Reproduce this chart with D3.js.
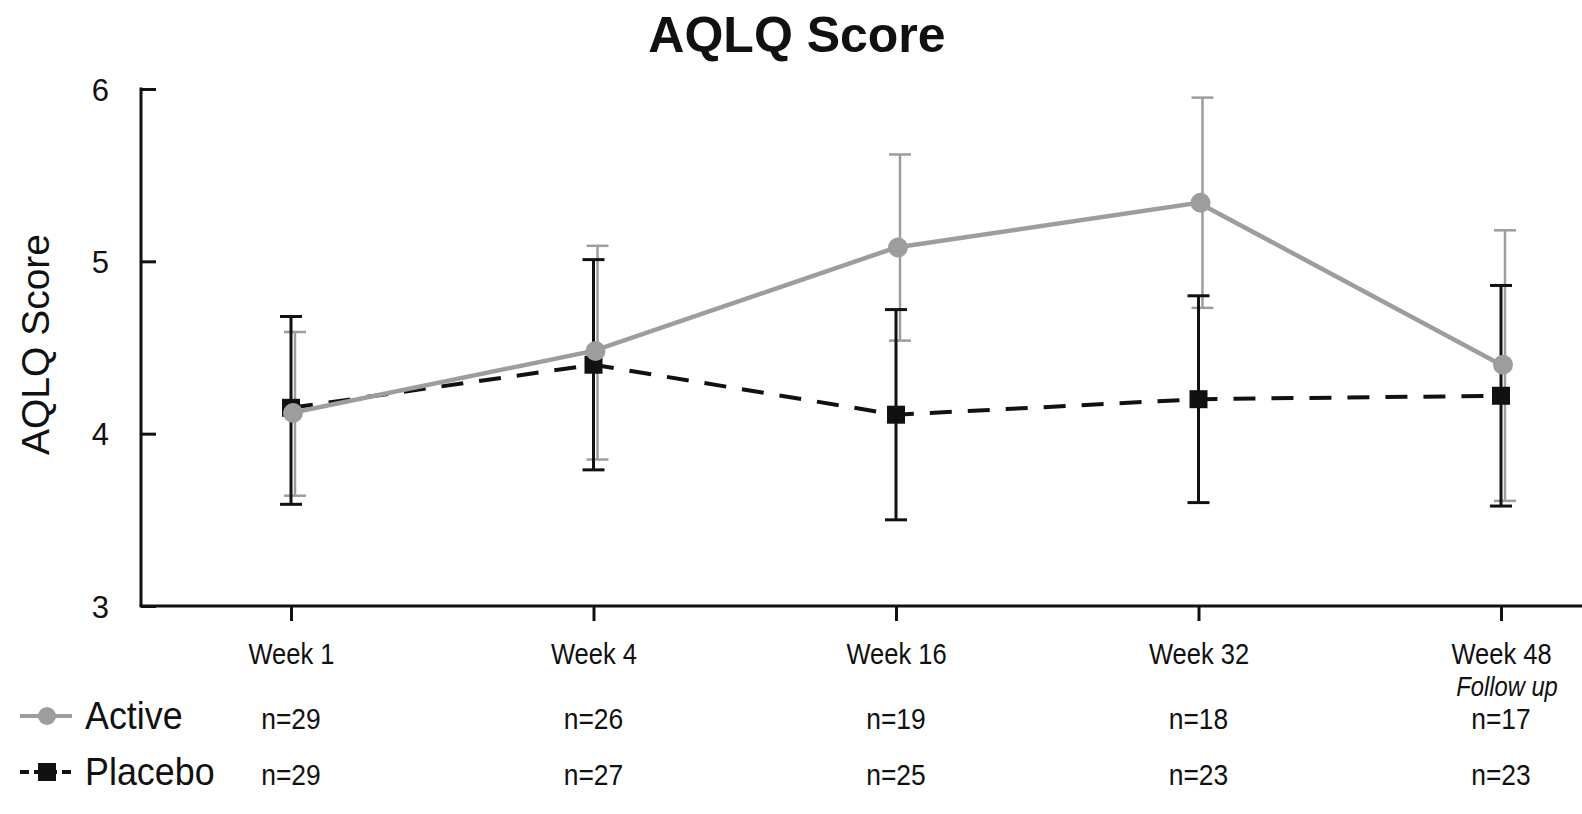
<!DOCTYPE html>
<html>
  <head>
    <meta charset="utf-8">
    <script src="https://d3js.org/d3.v7.min.js"></script>
    <title>AQLQ Score</title>
    <style>
      body {
        margin: 0px;
        background: #fff;
      }
      text {
        font-family: "Liberation Sans", Arial, sans-serif;
        fill: #111;
      }
      .tick line, .axis-line {
        stroke: #111;
        stroke-width: 3;
      }
    </style>
  </head>
  <body>
    <svg width="1582" height="814"></svg>
    <script>
      const weeks = ['Week 1', 'Week 4', 'Week 16', 'Week 32', 'Week 48'];
      const yTicks = [3, 4, 5, 6];

      const activeMean = [4.12, 4.48, 5.08, 5.34, 4.40];
      const activeHigh = [4.59, 5.09, 5.62, 5.95, 5.18];
      const activeLow = [3.64, 3.85, 4.54, 4.73, 3.61];
      const activeN = [29, 26, 19, 18, 17];

      const placeboMean = [4.15, 4.40, 4.11, 4.20, 4.22];
      const placeboHigh = [4.68, 5.01, 4.72, 4.80, 4.86];
      const placeboLow = [3.59, 3.79, 3.50, 3.60, 3.58];
      const placeboN = [29, 27, 25, 23, 23];

      const grey = '#9d9d9d';
      const axisLeftX = 141;
      const axisRightX = 1582;
      const narrow = 'scale(0.88,1)';

      const svg = d3.select('svg');

      const x = d3.scalePoint()
        .domain(weeks)
        .range([291, 1501]);

      const y = d3.scaleLinear()
        .domain([3, 6])
        .range([606, 89]);

      const rows = (mean, high, low) => weeks.map((w, i) => ({
        week: w, mean: mean[i], high: high[i], low: low[i]
      }));
      const active = rows(activeMean, activeHigh, activeLow);
      const placebo = rows(placeboMean, placeboHigh, placeboLow);

      // title
      svg.append('text')
          .attr('x', 797)
          .attr('y', 52)
          .attr('text-anchor', 'middle')
          .style('font-size', '50px')
          .style('font-weight', 'bold')
          .text('AQLQ Score');

      // y axis
      const yAxisG = svg.append('g')
          .attr('transform', `translate(${axisLeftX},0)`)
          .call(d3.axisLeft(y).tickValues(yTicks).tickFormat(d3.format('d'))
            .tickSize(-15).tickSizeOuter(0).tickPadding(32));
      yAxisG.select('.domain').remove();
      yAxisG.selectAll('.tick text').style('font-size', '31px').attr('dy', '0.36em');

      svg.append('line')
          .attr('class', 'axis-line')
          .attr('x1', axisLeftX).attr('x2', axisLeftX)
          .attr('y1', y(6) - 1.5).attr('y2', y(3));

      svg.append('text')
          .attr('transform', `translate(49,${(y(3) + y(6)) / 2 - 3}) rotate(-90)`)
          .attr('text-anchor', 'middle')
          .style('font-size', '39px')
          .text('AQLQ Score');

      // x axis
      const xAxisG = svg.append('g')
          .attr('transform', `translate(0,${y(3)})`)
          .call(d3.axisBottom(x).tickSize(15).tickSizeOuter(0).tickPadding(22));
      xAxisG.select('.domain').remove();
      xAxisG.selectAll('.tick text')
          .style('font-size', '29px')
          .attr('transform', narrow);

      svg.append('line')
          .attr('class', 'axis-line')
          .attr('x1', axisLeftX - 1.5).attr('x2', axisRightX)
          .attr('y1', y(3)).attr('y2', y(3));

      svg.append('g')
          .attr('transform', `translate(${x('Week 48') + 6},696)`)
        .append('text')
          .attr('transform', narrow)
          .attr('text-anchor', 'middle')
          .style('font-size', '27px')
          .style('font-style', 'italic')
          .text('Follow up');

      // error bars
      const drawErrors = (data, color, width, dx) => {
        const g = svg.append('g')
            .attr('stroke', color)
            .attr('stroke-width', width)
            .attr('fill', 'none');
        const bars = g.selectAll('g').data(data).enter().append('g')
            .attr('transform', d => `translate(${x(d.week) + dx},0)`);
        bars.append('line')
            .attr('y1', d => y(d.low)).attr('y2', d => y(d.high));
        bars.append('line')
            .attr('x1', -11).attr('x2', 11)
            .attr('y1', d => y(d.high)).attr('y2', d => y(d.high));
        bars.append('line')
            .attr('x1', -11).attr('x2', 11)
            .attr('y1', d => y(d.low)).attr('y2', d => y(d.low));
      };
      drawErrors(active, grey, 2.5, 4);
      drawErrors(placebo, '#111', 3, 0);

      const line = d3.line()
        .x(d => x(d.week))
        .y(d => y(d.mean));

      // placebo
      svg.append('path')
          .datum(placebo)
          .attr('d', line)
          .attr('fill', 'none')
          .attr('stroke', '#111')
          .attr('stroke-width', 4)
          .attr('stroke-dasharray', '22,16');

      svg.append('g').selectAll('rect').data(placebo)
        .enter().append('rect')
          .attr('x', d => x(d.week) - 9)
          .attr('y', d => y(d.mean) - 9)
          .attr('width', 18)
          .attr('height', 18)
          .attr('fill', '#111');

      // active
      svg.append('path')
          .datum(active)
          .attr('d', line)
          .attr('fill', 'none')
          .attr('stroke', grey)
          .attr('stroke-width', 4.5);

      svg.append('g').selectAll('circle').data(active)
        .enter().append('circle')
          .attr('cx', d => x(d.week) + 2)
          .attr('cy', d => y(d.mean))
          .attr('r', 10)
          .attr('fill', grey);

      // legend + sample sizes
      const legend = [
        { name: 'Active', n: activeN, y: 729 },
        { name: 'Placebo', n: placeboN, y: 785 }
      ];

      legend.forEach((s, i) => {
        const g = svg.append('g').attr('transform', `translate(0,${s.y - 13})`);
        if (i === 0) {
          g.append('line')
              .attr('x1', 20).attr('x2', 72)
              .attr('stroke', grey).attr('stroke-width', 4);
          g.append('circle')
              .attr('cx', 47).attr('r', 9).attr('fill', grey);
        } else {
          g.append('line')
              .attr('x1', 20).attr('x2', 72)
              .attr('stroke', '#111').attr('stroke-width', 4)
              .attr('stroke-dasharray', '9,5');
          g.append('rect')
              .attr('x', 38).attr('y', -9).attr('width', 18).attr('height', 18)
              .attr('fill', '#111');
        }
        svg.append('g')
            .attr('transform', `translate(85,${s.y})`)
          .append('text')
            .attr('transform', 'scale(0.92,1)')
            .style('font-size', '39px')
            .text(s.name);

        svg.append('g').selectAll('g').data(s.n)
          .enter().append('g')
            .attr('transform', (d, j) => `translate(${x(weeks[j])},${s.y})`)
          .append('text')
            .attr('transform', narrow)
            .attr('text-anchor', 'middle')
            .style('font-size', '30px')
            .text(d => `n=${d}`);
      });
    </script>
  </body>
</html>
